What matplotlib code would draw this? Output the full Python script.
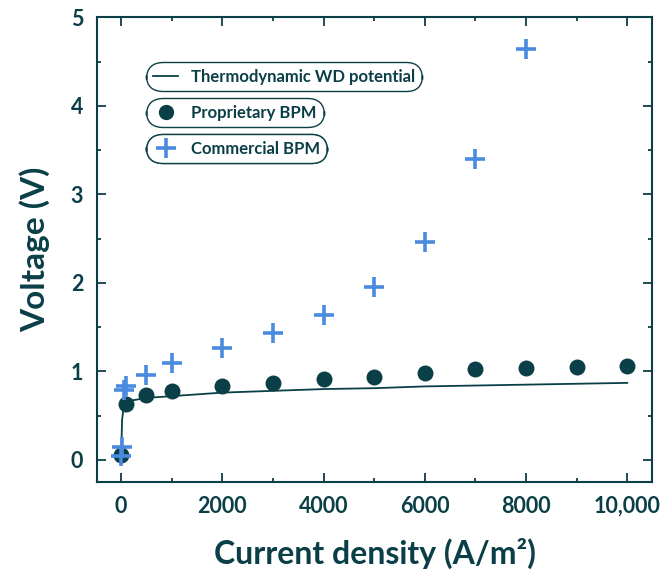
import matplotlib
matplotlib.use("Agg")
import matplotlib.pyplot as plt
from matplotlib.ticker import MultipleLocator
from matplotlib.lines import Line2D

plt.rcParams['font.family'] = ['Lato', 'DejaVu Sans']

# Data
thermo_x = [0, 20, 50, 100, 200, 500, 1000, 2000, 3000, 4000, 5000, 6000, 7000, 8000, 9000, 10000]
thermo_y = [0.0, 0.45, 0.60, 0.64, 0.67, 0.70, 0.72, 0.76, 0.78, 0.80, 0.81, 0.83, 0.84, 0.85, 0.86, 0.87]

prop_x = [0, 100, 500, 1000, 2000, 3000, 4000, 5000, 6000, 7000, 8000, 9000, 10000]
prop_y = [0.05, 0.63, 0.73, 0.78, 0.83, 0.87, 0.91, 0.94, 0.98, 1.03, 1.04, 1.05, 1.06]

comm_x = [0, 20, 50, 100, 500, 1000, 2000, 3000, 4000, 5000, 6000, 7000, 8000]
comm_y = [0.04, 0.15, 0.79, 0.84, 0.96, 1.09, 1.26, 1.43, 1.64, 1.95, 2.46, 3.40, 4.64]

xticks = [0, 2000, 4000, 6000, 8000, 10000]
xtick_labels = ["0", "2000", "4000", "6000", "8000", "10,000"]
yticks = [0, 1, 2, 3, 4, 5]

DARK = "#0b3f47"
BLUE = "#4a8be0"

fig = plt.figure(figsize=(6.6, 5.75), dpi=100)
ax = fig.add_axes([0.147, 0.1617, 0.841, 0.8083])

ax.plot(thermo_x, thermo_y, color=DARK, lw=1.3, zorder=2)
ax.plot(prop_x, prop_y, 'o', color=DARK, ms=11.5, zorder=3, mew=0)
ax.plot(comm_x, comm_y, '+', color=BLUE, ms=15, mew=2.6, zorder=4)

ax.set_xlim(-475, 10490)
ax.set_ylim(-0.25, 5.0)

ax.set_xticks(xticks)
ax.set_xticklabels(xtick_labels)
ax.xaxis.set_minor_locator(MultipleLocator(1000))
ax.set_yticks(yticks)
ax.yaxis.set_minor_locator(MultipleLocator(0.5))

ax.tick_params(which='both', direction='in', top=True, right=True, color=DARK, width=1.3)
ax.tick_params(which='major', length=6.5, labelsize=15.5, labelcolor=DARK, pad=10)
ax.tick_params(which='minor', length=3)
for lab in ax.get_xticklabels() + ax.get_yticklabels():
    lab.set_fontweight('bold')
for s in ax.spines.values():
    s.set_color(DARK)
    s.set_linewidth(1.5)

ax.set_xlabel("Current density (A/m²)", fontsize=23, fontweight='bold', color=DARK, labelpad=15)
ax.set_ylabel("Voltage (V)", fontsize=24, fontweight='bold', color=DARK, labelpad=15)

# Legends as separate pills
handles = [
    Line2D([], [], color=DARK, lw=1.3),
    Line2D([], [], marker='o', ls='none', color=DARK, ms=11, mew=0),
    Line2D([], [], marker='+', ls='none', color=BLUE, ms=15, mew=2.6),
]
labels = ["Thermodynamic WD potential", "Proprietary BPM", "Commercial BPM"]
tops = [0.904, 0.826, 0.749]
for h, l, t in zip(handles, labels, tops):
    leg = ax.legend([h], [l], loc='upper left', bbox_to_anchor=(0.089, t),
                    frameon=True, fontsize=12, handlelength=1.5, handletextpad=0.8,
                    borderpad=0.4, borderaxespad=0, labelcolor=DARK)
    fr = leg.get_frame()
    fr.set_boxstyle("round,pad=0,rounding_size=1.0")
    fr.set_edgecolor(DARK)
    fr.set_linewidth(1.0)
    fr.set_alpha(1)
    for txt in leg.get_texts():
        txt.set_fontweight('bold')
    ax.add_artist(leg)

fig.savefig("out.png", dpi=100)
